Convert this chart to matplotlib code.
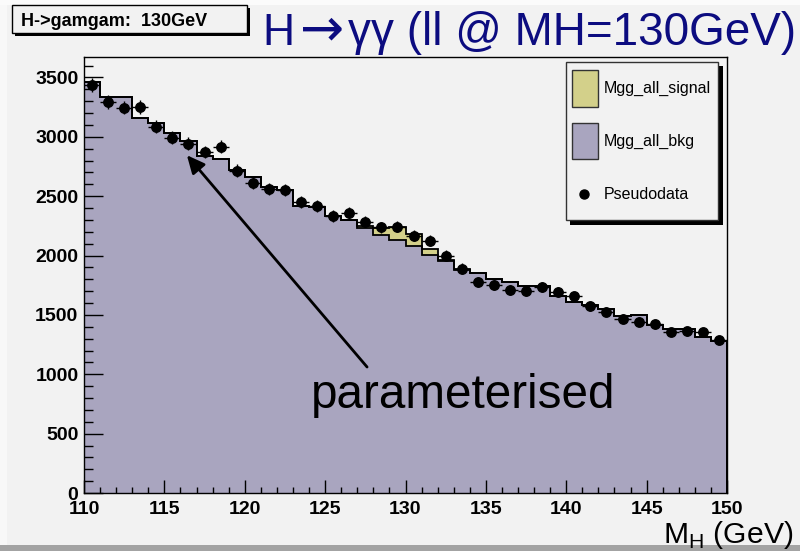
import numpy as np
import matplotlib
matplotlib.use("Agg")
import matplotlib.pyplot as plt
from matplotlib.patches import Rectangle
from matplotlib.lines import Line2D
from matplotlib.ticker import MultipleLocator

plt.rcParams['font.family'] = ['Liberation Sans', 'DejaVu Sans']
plt.rcParams['mathtext.fontset'] = 'custom'
plt.rcParams['mathtext.rm'] = 'Liberation Sans'

# Diphoton invariant mass, 1 GeV bins from 110 to 150 GeV
bin_edges = np.arange(110, 151, 1)

bkg_counts = [3462, 3334, 3334, 3155, 3120, 3036, 2963, 2840, 2811, 2719,
              2660, 2580, 2550, 2416, 2411, 2335, 2300, 2232, 2175, 2133,
              2081, 2003, 1951, 1881, 1857, 1806, 1778, 1747, 1744, 1655,
              1609, 1581, 1548, 1490, 1503, 1413, 1385, 1379, 1314, 1278]

signal_counts = [0, 0, 0, 0, 0, 0, 0, 0, 0, 0,
                 0, 0, 0, 0, 0, 0, 3, 15, 55, 105,
                 98, 56, 15, 4, 0, 0, 0, 0, 0, 0,
                 0, 0, 0, 0, 0, 0, 0, 0, 0, 0]

pseudodata = [3440, 3295, 3245, 3250, 3085, 2993, 2940, 2872, 2915, 2715,
              2613, 2557, 2553, 2452, 2417, 2333, 2356, 2285, 2238, 2243,
              2165, 2123, 2000, 1890, 1778, 1750, 1712, 1703, 1736, 1692,
              1655, 1572, 1528, 1468, 1444, 1420, 1356, 1362, 1352, 1288]

x_ticks = [110, 115, 120, 125, 130, 135, 140, 145, 150]
y_ticks = [0, 500, 1000, 1500, 2000, 2500, 3000, 3500]

legend_labels = ["Mgg_all_signal", "Mgg_all_bkg", "Pseudodata"]
box_label = "H->gamgam:  130GeV"
# title pieces: (text, font family, left pixel, size)
title_parts = [("H", 'Liberation Sans', 262, 32),
               ("\u2192", 'DejaVu Sans', 300, 38),
               ("\u03b3\u03b3 (ll @ MH=130GeV)", 'Liberation Sans', 348, 33)]

CANVAS = '#f2f2f2'
SIG_COLOR = '#d3d08a'
BKG_COLOR = '#a9a5bf'
TITLE_COLOR = '#0c0c80'

W, H = 800, 551
fig = plt.figure(figsize=(W / 100, H / 100), dpi=100, facecolor=CANVAS)


def fx(px):
    return px / W


def fy(py):
    return 1 - py / H


# canvas bevel
fig.add_artist(Rectangle((0, fy(551)), 1, 6 / H, transform=fig.transFigure,
                         facecolor='#a3a3a3', edgecolor='none', zorder=0))
fig.add_artist(Rectangle((0, fy(5)), 1, 5 / H, transform=fig.transFigure,
                         facecolor='#fbfbfb', edgecolor='none', zorder=0))
fig.add_artist(Rectangle((0, fy(545)), 7 / W, 540 / H, transform=fig.transFigure,
                         facecolor='#f8f8f8', edgecolor='none', zorder=0))

ax = fig.add_axes([fx(84), fy(493), fx(727) - fx(84), fy(57) - fy(493)])
ax.set_facecolor(CANVAS)

bkg = np.array(bkg_counts, dtype=float)
sig = np.array(signal_counts, dtype=float)
data = np.array(pseudodata, dtype=float)
centers = 0.5 * (bin_edges[:-1] + bin_edges[1:])
half_w = 0.5 * np.diff(bin_edges)

# stacked histograms: signal on top of background
ax.stairs(bkg + sig, bin_edges, baseline=0, fill=True, color=SIG_COLOR, zorder=1)
ax.stairs(bkg, bin_edges, baseline=0, fill=True, color=BKG_COLOR, zorder=1.1)
ax.stairs(bkg + sig, bin_edges, baseline=0, fill=False, color='black', lw=1.3, zorder=2)
ax.stairs(bkg, bin_edges, baseline=0, fill=False, color='black', lw=1.3, zorder=2.1)

# pseudodata with Poisson errors
ax.errorbar(centers, data, yerr=np.sqrt(data), xerr=half_w, fmt='o', color='black',
            ms=6.8, elinewidth=1.0, capsize=0, zorder=4)

ax.set_xlim(110, 150)
ax.set_ylim(0, 3672)
ax.set_xticks(x_ticks)
ax.set_yticks(y_ticks)
ax.xaxis.set_minor_locator(MultipleLocator(1))
ax.yaxis.set_minor_locator(MultipleLocator(100))
ax.tick_params(axis='x', which='major', direction='in', length=9.1, width=1.0, pad=6,
               labelsize=14)
ax.tick_params(axis='x', which='minor', direction='in', length=4.3, width=1.0)
ax.tick_params(axis='y', which='major', direction='in', length=13.9, width=1.0, pad=4,
               labelsize=14)
ax.tick_params(axis='y', which='minor', direction='in', length=6.7, width=1.0)
for lab in ax.get_xticklabels() + ax.get_yticklabels():
    lab.set_fontweight('bold')
for s in ax.spines.values():
    s.set_color('black')
    s.set_linewidth(1.0)
    s.set_zorder(5)

# annotation
ax.annotate('', xy=(116.40, 2845), xytext=(127.61, 1061),
            arrowprops=dict(arrowstyle='-|>,head_length=0.9,head_width=0.42',
                            mutation_scale=12, lw=2.0, color='black',
                            shrinkA=0, shrinkB=0), zorder=6)
ax.text(124.14, 713, "parameterised", fontsize=34.3, color='black',
        ha='left', va='baseline', zorder=6)

# axis title
fig.text(fx(793), fy(543), r'M$_\mathregular{H}$ (GeV)', fontsize=21.7,
         ha='right', va='baseline', color='black')

# main title
for text, fam, left, size in title_parts:
    fig.text(fx(left), fy(45), text, fontsize=size, color=TITLE_COLOR,
             family=[fam, 'DejaVu Sans'], ha='left', va='baseline')

# label box with shadow
fig.add_artist(Rectangle((fx(15), fy(36)), fx(247) - fx(12), fy(5) - fy(33),
                         transform=fig.transFigure, facecolor='black',
                         edgecolor='none', zorder=3))
fig.add_artist(Rectangle((fx(12), fy(33)), fx(247) - fx(12), fy(5) - fy(33),
                         transform=fig.transFigure, facecolor=CANVAS,
                         edgecolor='black', lw=1.0, zorder=4))
fig.text(fx(21), fy(26.5), box_label, fontsize=13, fontweight='bold',
         ha='left', va='baseline', zorder=5)

# legend with shadow
lx0, lx1, ly0, ly1 = 565.7, 718.0, 61.7, 220.0
fig.add_artist(Rectangle((fx(lx0 + 4.5), fy(ly1 + 4.5)), fx(lx1) - fx(lx0), fy(ly0) - fy(ly1),
                         transform=fig.transFigure, facecolor='black',
                         edgecolor='none', zorder=7))
fig.add_artist(Rectangle((fx(lx0), fy(ly1)), fx(lx1) - fx(lx0), fy(ly0) - fy(ly1),
                         transform=fig.transFigure, facecolor=CANVAS,
                         edgecolor='#333333', lw=1.0, zorder=8))
for (y0, y1), col in zip([(70, 107), (122.7, 159.3)], [SIG_COLOR, BKG_COLOR]):
    fig.add_artist(Rectangle((fx(571.7), fy(y1)), fx(598.3) - fx(571.7), fy(y0) - fy(y1),
                             transform=fig.transFigure, facecolor=col,
                             edgecolor='#333333', lw=1.0, zorder=9))
fig.add_artist(Line2D([fx(584)], [fy(194)], marker='o', ms=6.5, color='black',
                      transform=fig.transFigure, zorder=9))
for label, yc in zip(legend_labels, [88.5, 141, 194]):
    fig.text(fx(604), fy(yc), label, fontsize=11.5, ha='left', va='center', zorder=10)

fig.savefig('out.png', dpi=100, facecolor=CANVAS)
